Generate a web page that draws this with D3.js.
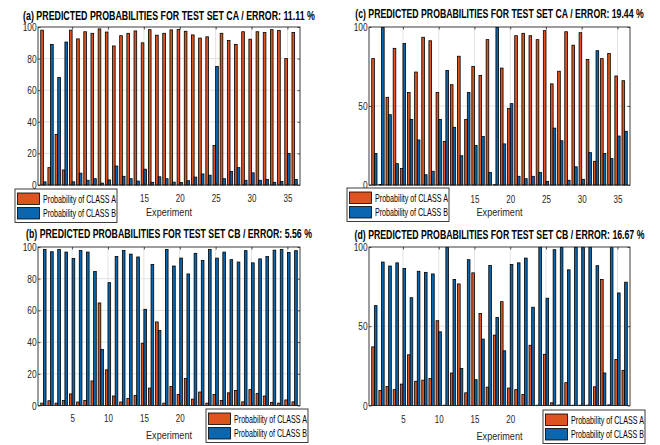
<!DOCTYPE html>
<html>
<head>
<meta charset="utf-8">
<script src="https://cdn.jsdelivr.net/npm/d3@7"></script>
<style>
  html, body { margin: 0; padding: 0; background: #fff; }
  svg { display: block; font-family: "Liberation Sans", Arial, Helvetica, sans-serif; }
</style>
</head>
<body>
<svg id="chart" width="660" height="445"></svg>
<script>
// ---- data -------------------------------------------------------------
const experiments = d3.range(1, 37);
const xTickValues = [5, 10, 15, 20, 25, 30, 35];
const yTicksFine = [0, 20, 40, 60, 80, 100];
const yTicksCoarse = [0, 50, 100];
const seriesNames = ["Probability of CLASS A", "Probability of CLASS B"];

// (a) test set CA
const aClassA = [98, 11, 32, 9.5, 98, 92.5, 97, 96, 98.8, 96.8, 88, 94.5, 96, 97.5, 90, 98.3, 94.8, 96,
                 98.2, 98.4, 97.3, 95, 93, 93.8, 25, 96, 91.5, 89, 97, 92.3, 97, 96.5, 98.3, 97.8, 80, 96.5];
const aClassB = [2, 89, 68, 90.5, 2, 7.5, 3, 4, 1.2, 3.2, 12, 5.5, 4, 2.5, 10, 1.7, 5.2, 4,
                 1.8, 1.6, 2.7, 5, 7, 6.2, 75, 4, 8.5, 11, 3, 7.7, 3, 3.5, 1.7, 2.2, 20, 3.5];

// (b) test set CB
const bClassA = [1.5, 3, 1.5, 3.2, 7.3, 2.2, 3.2, 15.5, 64.7, 22.5, 6, 2.2, 4.5, 6.3, 39.3, 11, 52.7, 1.5,
                 12, 7, 17, 4, 8.5, 1.5, 7, 3.2, 8, 9.5, 2.3, 10, 7.5, 6, 2, 1.5, 3.5, 2.3];
const bClassB = [98.5, 97, 98.5, 96.8, 92.7, 97.8, 96.8, 84.5, 35.3, 77.5, 94, 97.8, 95.5, 93.7, 60.7, 89, 47.3, 98.5,
                 88, 93, 83, 96, 91.5, 98.5, 93, 96.8, 92, 90.5, 97.7, 90, 92.5, 94, 98, 98.5, 96.5, 97.7];

// (c) test set CA
const cClassA = [80, 0.3, 55.5, 86.5, 10.5, 58.5, 71.5, 93.5, 91.3, 58.5, 27.5, 63.5, 81.5, 41.5, 75, 69.3, 92, 0.2,
                 74, 48.5, 94.5, 96, 94.5, 92, 97.7, 64, 72, 97, 88.5, 96.4, 79.5, 15, 80, 83.3, 69, 66];
const cClassB = [20, 99.7, 44.5, 13.5, 89.5, 41.5, 28.5, 6.5, 8.7, 41.5, 72.5, 36.5, 18.5, 58.5, 25, 30.7, 8, 99.8,
                 26, 51.5, 5.5, 4, 5.5, 8, 2.3, 36, 28, 3, 11.5, 3.6, 20.5, 85, 20, 16.7, 31, 34];

// (d) test set CB
const dClassA = [37, 9.5, 12, 10, 13.5, 32, 15.3, 16, 17, 53.5, 0.2, 20.5, 76.7, 8, 83.7, 58.1, 11.6, 44.4,
                 65.5, 11, 10, 7, 38, 0.2, 32.3, 1.7, 0.3, 14.4, 0.2, 0.2, 0.2, 11.8, 79.5, 0.4, 29, 22.2];
const dClassB = [63, 90.5, 88, 90, 86.5, 68, 84.7, 84, 83, 46.5, 99.8, 79.5, 23.3, 92, 16.3, 41.9, 88.4, 55.6,
                 34.5, 89, 90, 93, 62, 99.8, 67.7, 98.3, 99.7, 85.6, 99.8, 99.8, 99.8, 88.2, 20.5, 99.6, 71, 77.8];

// ---- layout ------------------------------------------------------------
const colorA = "#DE5420";
const colorB = "#0B66B0";
const gridColor = "#e2e2e2";
const axisColor = "#262626";

const panels = [
  { title: "(a) PREDICTED PROBABILITIES FOR TEST SET CA / ERROR: 11.11 %",
    classA: aClassA, classB: aClassB, yTicks: yTicksFine,
    box: { x0: 38, x1: 300, y0: 27, y1: 185 },
    titleY: 19.5, titleW: 292, tickPad: 10, labelY: 215.5, labelW: 46,
    legend: { x: 15, y: 189 } },
  { title: "(c) PREDICTED PROBABILITIES FOR TEST SET CA / ERROR: 19.44 %",
    classA: cClassA, classB: cClassB, yTicks: yTicksCoarse,
    box: { x0: 369, x1: 630, y0: 27, y1: 185 },
    titleY: 17.5, titleW: 289, tickPad: 10.5, labelY: 216, labelW: 46,
    legend: { x: 347, y: 188 } },
  { title: "(b) PREDICTED PROBABILITIES FOR TEST SET CB / ERROR: 5.56 %",
    classA: bClassA, classB: bClassB, yTicks: yTicksFine,
    box: { x0: 38, x1: 300, y0: 247, y1: 405.5 },
    titleY: 237.5, titleW: 286, tickPad: 9.5, labelY: 438.5, labelW: 46,
    legend: { x: 206, y: 409 } },
  { title: "(d) PREDICTED PROBABILITIES FOR TEST SET CB / ERROR: 16.67 %",
    classA: dClassA, classB: dClassB, yTicks: yTicksCoarse,
    box: { x0: 369, x1: 630, y0: 247, y1: 405.5 },
    titleY: 238.5, titleW: 290, tickPad: 10.5, labelY: 439.5, labelW: 46,
    legend: { x: 543, y: 410 } }
];

const barWidth = 0.37;     // width of one bar, in experiment units
const tickLen = 2.5;
const legendW = 102, legendH = 33.5;
const tickCondense = 0.76; // narrow axis font

const svg = d3.select("#chart");

// squeeze a text element horizontally so that it spans `width` pixels,
// keeping its anchor point at (x, y)
function fitWidth(sel, x, y, width) {
  sel.attr("x", 0).attr("y", 0);
  const natural = sel.node().getComputedTextLength();
  sel.attr("transform", `translate(${x},${y}) scale(${width / natural},1)`);
}

panels.forEach(p => {
  const g = svg.append("g");
  const { x0, x1, y0, y1 } = p.box;

  const x = d3.scaleLinear().domain([0.25, 36.75]).range([x0, x1]);
  const y = d3.scaleLinear().domain([0, 100]).range([y1, y0]);

  // tick labels that sit beneath the legend box are not shown
  const underLegend = v => x(v) + 6 > p.legend.x && x(v) - 6 < p.legend.x + legendW;

  // grid
  g.append("g").selectAll("line").data(xTickValues).join("line")
    .attr("x1", d => x(d)).attr("x2", d => x(d))
    .attr("y1", y0).attr("y2", y1)
    .attr("stroke", gridColor).attr("stroke-width", 1);
  g.append("g").selectAll("line").data(p.yTicks.filter(t => t > 0 && t < 100)).join("line")
    .attr("x1", x0).attr("x2", x1)
    .attr("y1", d => y(d)).attr("y2", d => y(d))
    .attr("stroke", gridColor).attr("stroke-width", 1);

  // grouped bars: class A on the left of each experiment, class B on the right
  const series = [
    { values: p.classA, color: colorA, shift: -barWidth },
    { values: p.classB, color: colorB, shift: 0 }
  ];
  series.forEach(s => {
    g.append("g").selectAll("rect").data(experiments).join("rect")
      .attr("x", d => x(d + s.shift))
      .attr("width", x(barWidth) - x(0))
      .attr("y", (d, i) => y(s.values[i]))
      .attr("height", (d, i) => y(0) - y(s.values[i]))
      .attr("fill", s.color)
      .attr("stroke", "#000")
      .attr("stroke-width", 0.8);
  });

  // axes with inward ticks on all four sides
  const bottom = g.append("g").attr("transform", `translate(0,${y1})`)
    .call(d3.axisBottom(x).tickValues(xTickValues).tickSizeInner(-tickLen).tickSizeOuter(0)
      .tickPadding(p.tickPad).tickFormat(v => underLegend(v) ? "" : v));
  const top = g.append("g").attr("transform", `translate(0,${y0})`)
    .call(d3.axisTop(x).tickValues(xTickValues).tickSizeInner(-tickLen).tickSizeOuter(0).tickFormat(""));
  const left = g.append("g").attr("transform", `translate(${x0},0)`)
    .call(d3.axisLeft(y).tickValues(p.yTicks).tickSizeInner(-tickLen).tickSizeOuter(0).tickPadding(1.8));
  const right = g.append("g").attr("transform", `translate(${x1},0)`)
    .call(d3.axisRight(y).tickValues(p.yTicks).tickSizeInner(-tickLen).tickSizeOuter(0).tickFormat(""));

  [bottom, top, left, right].forEach(a => {
    a.select(".domain").remove();
    a.selectAll(".tick line").attr("stroke", axisColor).attr("stroke-width", 0.8);
    a.selectAll(".tick text")
      .attr("fill", "#262626")
      .attr("font-family", "'Liberation Sans', Arial, sans-serif")
      .attr("font-size", 11);
  });
  top.selectAll(".tick text").remove();
  right.selectAll(".tick text").remove();
  bottom.selectAll(".tick text").filter(function () { return this.textContent === ""; }).remove();
  bottom.selectAll(".tick text").attr("font-size", 10.5);
  [bottom, left].forEach(a => a.selectAll(".tick text").attr("transform", `scale(${tickCondense},1)`));

  // frame
  g.append("rect")
    .attr("x", x0).attr("y", y0)
    .attr("width", x1 - x0).attr("height", y1 - y0)
    .attr("fill", "none").attr("stroke", axisColor).attr("stroke-width", 0.9);

  // title
  const t = g.append("text")
    .attr("text-anchor", "middle")
    .attr("font-size", 12).attr("font-weight", "bold")
    .attr("fill", "#000")
    .text(p.title);
  fitWidth(t, (x0 + x1) / 2, p.titleY, p.titleW);

  // x label
  const xl = g.append("text")
    .attr("text-anchor", "middle")
    .attr("font-size", 11).attr("fill", "#262626")
    .text("Experiment");
  fitWidth(xl, (x0 + x1) / 2, p.labelY, p.labelW);

  // legend
  const lg = g.append("g").attr("transform", `translate(${p.legend.x},${p.legend.y})`);
  lg.append("rect")
    .attr("width", legendW).attr("height", legendH)
    .attr("fill", "#fff").attr("stroke", axisColor).attr("stroke-width", 0.9);
  [colorA, colorB].forEach((c, i) => {
    const row = lg.append("g").attr("transform", `translate(2.5,${4 + i * 14.5})`);
    row.append("rect")
      .attr("width", 22).attr("height", 11.5)
      .attr("fill", c).attr("stroke", "#000").attr("stroke-width", 0.8);
    const lt = row.append("text")
      .attr("font-size", 10.5).attr("fill", "#000")
      .text(seriesNames[i]);
    fitWidth(lt, 25.5, 9.8, 73);
  });
});
</script>
</body>
</html>
